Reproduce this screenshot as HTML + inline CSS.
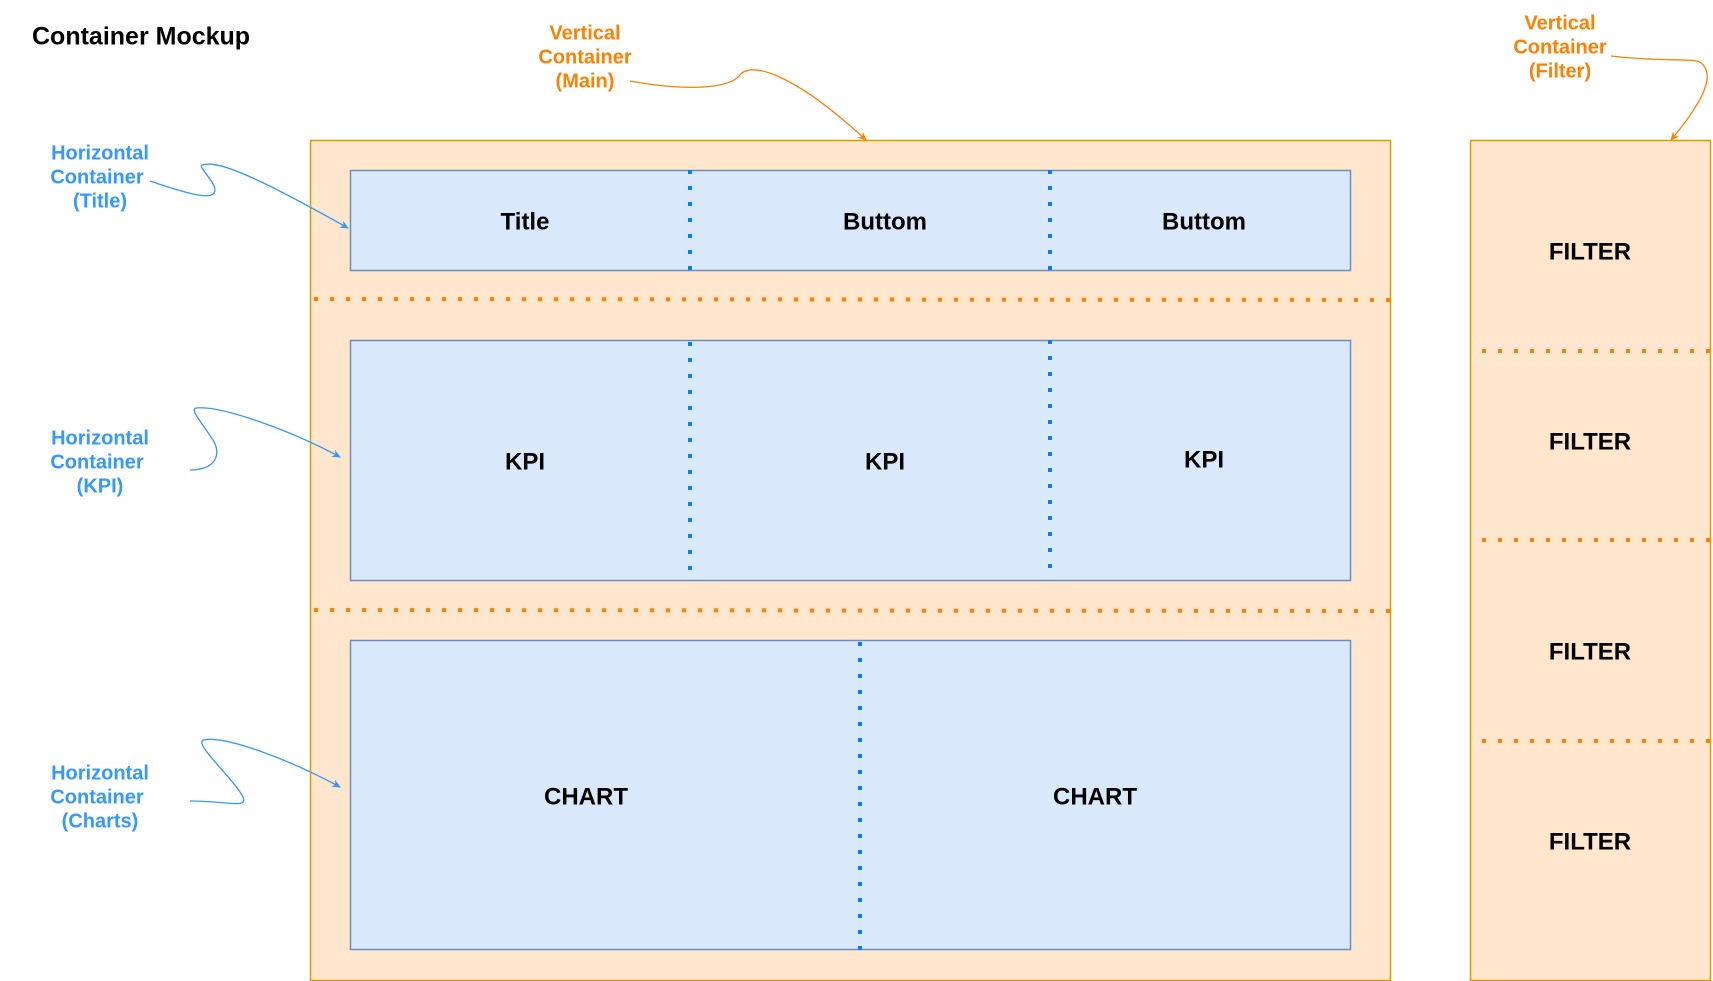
<!DOCTYPE html>
<html><head><meta charset="utf-8"><style>
html,body{margin:0;padding:0;background:#fff;}
svg{display:block;font-family:"Liberation Sans",Arial,sans-serif;}
.t{font-weight:bold;font-size:24px;fill:#000;text-anchor:middle;dominant-baseline:middle;}
.a{font-weight:bold;font-size:20px;text-anchor:middle;dominant-baseline:middle;}
.o{fill:#FF8000;} .b{fill:#3399FF;}
</style></head><body>
<svg width="1713" height="981" viewBox="0 0 1713 981">
<defs>
<marker id="ab" markerWidth="10" markerHeight="10" refX="8" refY="5" orient="auto" markerUnits="userSpaceOnUse"><path d="M0,1 L9,5 L0,9 L3,5 Z" fill="#3399FF"/></marker>
<marker id="ao" markerWidth="10" markerHeight="10" refX="8" refY="5" orient="auto" markerUnits="userSpaceOnUse"><path d="M0,1 L9,5 L0,9 L3,5 Z" fill="#FF8000"/></marker>
</defs>
<text x="32" y="38" font-size="25" font-weight="bold" dominant-baseline="middle">Container Mockup</text>

<rect x="310.5" y="140.5" width="1080" height="840" fill="#FFE6CC" stroke="#D79B00" stroke-width="1.5"/>
<rect x="1470.5" y="140.5" width="240" height="840" fill="#FFE6CC" stroke="#D79B00" stroke-width="1.5"/>

<rect x="350.5" y="170.5" width="1000" height="100" fill="#DAE8FC" stroke="#6C8EBF" stroke-width="1.5"/>
<rect x="350.5" y="340.5" width="1000" height="240" fill="#DAE8FC" stroke="#6C8EBF" stroke-width="1.5"/>
<rect x="350.5" y="640.5" width="1000" height="309" fill="#DAE8FC" stroke="#6C8EBF" stroke-width="1.5"/>

<g stroke="#007FFF" stroke-width="4" stroke-dasharray="4 12" fill="none">
<line x1="690" y1="170" x2="690" y2="270"/>
<line x1="1050" y1="170" x2="1050" y2="270"/>
<line x1="690" y1="342" x2="690" y2="580"/>
<line x1="1050" y1="340" x2="1050" y2="580"/>
<line x1="860" y1="642" x2="860" y2="950"/>
</g>
<g stroke="#FF8000" stroke-width="4" stroke-dasharray="4 12" fill="none">
<line x1="314" y1="299" x2="1390" y2="300"/>
<line x1="314" y1="610" x2="1390" y2="611"/>
<line x1="1482" y1="351" x2="1711" y2="351"/>
<line x1="1482" y1="540" x2="1711" y2="540"/>
<line x1="1482" y1="741" x2="1711" y2="741"/>
</g>

<text class="t" x="525" y="223">Title</text>
<text class="t" x="885" y="223">Buttom</text>
<text class="t" x="1204" y="223">Buttom</text>
<text class="t" x="525" y="463">KPI</text>
<text class="t" x="885" y="463">KPI</text>
<text class="t" x="1204" y="461">KPI</text>
<text class="t" x="586" y="798">CHART</text>
<text class="t" x="1095" y="798">CHART</text>
<text class="t" x="1590" y="253">FILTER</text>
<text class="t" x="1590" y="443">FILTER</text>
<text class="t" x="1590" y="653">FILTER</text>
<text class="t" x="1590" y="843">FILTER</text>

<g class="a o">
<text x="585" y="34">Vertical</text><text x="585" y="58">Container</text><text x="585" y="82">(Main)</text></g>
<g class="a o">
<text x="1560" y="24">Vertical</text><text x="1560" y="48">Container</text><text x="1560" y="72">(Filter)</text></g>
<g class="a b">
<text x="100" y="154">Horizontal</text><text x="97" y="178">Container</text><text x="100" y="202">(Title)</text></g>
<g class="a b">
<text x="100" y="439">Horizontal</text><text x="97" y="463">Container</text><text x="100" y="487">(KPI)</text></g>
<g class="a b">
<text x="100" y="774">Horizontal</text><text x="97" y="798">Container</text><text x="100" y="822">(Charts)</text></g>

<g fill="none" stroke-width="1.3">
<path d="M150,181 C185,193 210,200 214,193 C220,185 195,165 203,165 C220,158 280,190 348,228" stroke="#3399FF" marker-end="url(#ab)"/>
<path d="M190,470 C215,470 222,455 213,440 C200,420 190,410 196,408 C220,405 290,430 340,457" stroke="#3399FF" marker-end="url(#ab)"/>
<path d="M190,801 C230,801 250,810 242,795 C230,775 195,745 203,740 C225,735 290,760 340,787" stroke="#3399FF" marker-end="url(#ab)"/>
<path d="M630,81 C690,92 730,88 740,75 C750,62 790,70 866,140" stroke="#FF8000" marker-end="url(#ao)"/>
<path d="M1611,56 C1660,62 1690,58 1700,62 C1718,75 1700,105 1671,140" stroke="#FF8000" marker-end="url(#ao)"/>
</g>
</svg>
</body></html>
